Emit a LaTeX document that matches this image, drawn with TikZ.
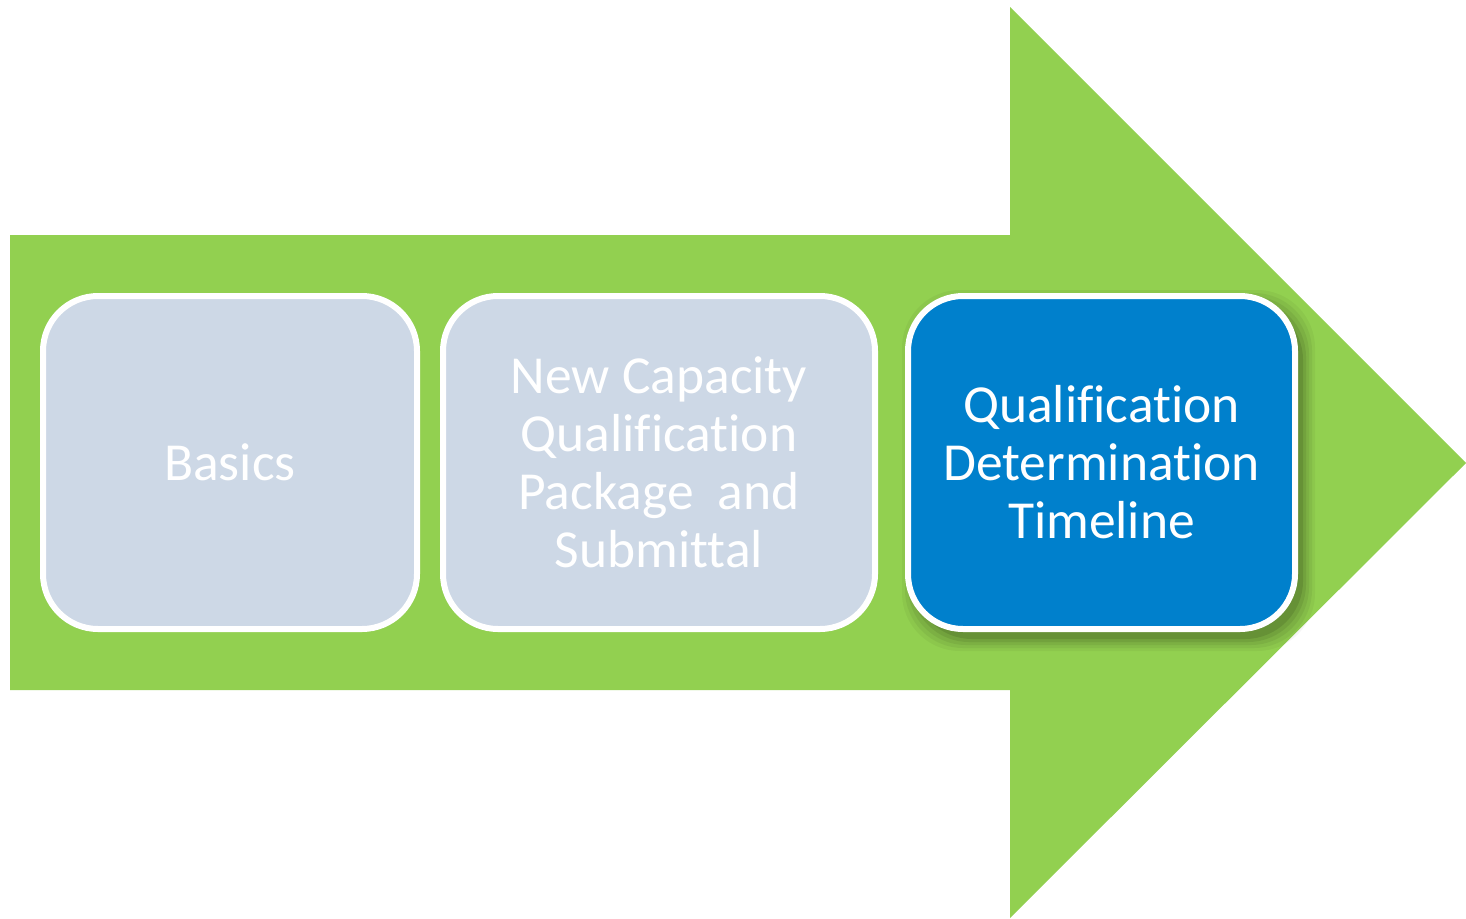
\documentclass[tikz,border=0pt]{standalone}
\usepackage{fontspec}
\setmainfont[Ligatures={NoCommon}]{Carlito}
\definecolor{arrowgreen}{HTML}{92D050}
\definecolor{boxgray}{HTML}{CDD8E6}
\definecolor{boxblue}{HTML}{0080CC}
\begin{document}
\begin{tikzpicture}[x=1pt,y=-1pt,
  stagebox/.style={rectangle, rounded corners=55pt, draw=white, line width=6pt,
    align=center, text=white, inner sep=0pt,
    font=\fontsize{53.5}{58}\selectfont},
]
\useasboundingbox (0,0) rectangle (1466,918);
\fill[white] (0,0) rectangle (1466,918);
% big arrow
\fill[arrowgreen] (10,235) -- (1010,235) -- (1010,7) -- (1466,463) -- (1010,918) -- (1010,690) -- (10,690) -- cycle;
% shadow of third box
\foreach \s/\o in {16/0.04,13/0.05,10/0.06,7/0.08,4/0.10}{
  \fill[black,opacity=\o,rounded corners=58pt] (908-\s+10,296-\s+10) rectangle (1295+\s+4,629+\s+6);
}
\node[stagebox, fill=boxgray, minimum width=374pt, minimum height=333pt] (basics) at (230,462.5) {Basics};
\node[stagebox, fill=boxgray, minimum width=432pt, minimum height=333pt] (package) at (659,462.5) {New Capacity\\Qualification\\Package\ \ and\\Submittal};
\node[stagebox, fill=boxblue, minimum width=387pt, minimum height=333pt] (timeline) at (1101.5,462.5) {Qualification\\Determination\\Timeline};
\end{tikzpicture}
\end{document}
